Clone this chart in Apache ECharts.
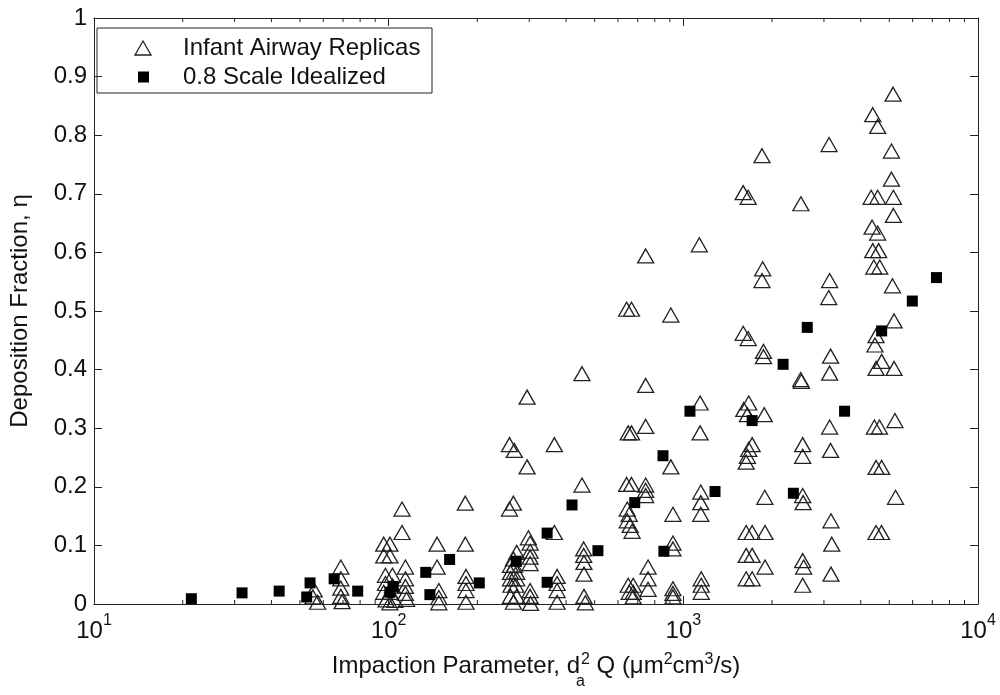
<!DOCTYPE html>
<html>
<head>
<meta charset="utf-8">
<script src="https://cdn.jsdelivr.net/npm/echarts@6/dist/echarts.min.js"></script>
<style>
  html, body { margin: 0; padding: 0; background: #fff; }
  #chart { width: 1000px; height: 695px; }
</style>
</head>
<body>
<div id="chart"></div>
<script>
// Infant airway replicas: impaction parameter (um^2 cm^3/s) and deposition fraction
const replicaImpaction = [
  55.3, 55.9, 57.4,
  68.8, 68.8, 68.8, 68.8, 69.5,
  111, 111, 96.2, 101, 96.2, 101, 114, 97.5, 103, 114, 97.5, 103, 114, 96.2, 101, 114, 98, 105, 115, 101,
  146, 146, 148, 148, 148,
  182, 182, 183, 183, 183, 183,
  257, 267, 265, 257, 272, 265, 259, 267, 259, 272, 259, 272, 260, 270, 259, 272, 265,
  295, 295, 298, 302, 302, 302, 302, 302, 302, 303,
  365, 365, 373, 373, 373, 373,
  453, 453, 459, 459, 460, 460, 460, 465,
  642, 667, 650, 667, 642, 667, 645, 655, 645, 660, 670, 650, 676, 655, 676, 676,
  745, 745, 745, 745, 745, 745, 759, 759, 759,
  907, 907, 922, 922, 922, 922, 922, 922,
  1133, 1140, 1140, 1146, 1146, 1146, 1150, 1150, 1150,
  1849, 1596, 1660, 1859, 1849, 1596, 1660, 1871, 1871, 1667, 1604, 1650, 1882, 1712, 1667, 1650, 1634,
  1890, 1634, 1712, 1893, 1634, 1712, 1893, 1634, 1712,
  2506, 2502, 2515, 2541, 2541, 2541, 2550, 2541, 2560, 2541,
  3123, 3137, 3115, 3160, 3137, 3137, 3160, 3170, 3190, 3170,
  4393, 4565, 4338, 4565, 4370, 4565, 4393, 4600, 4430, 4640, 4510, 4470, 4710, 4510, 4450, 4630, 4510, 4710, 4507, 4704,
  5150, 5085, 5085, 5162, 5162, 5125, 5190, 5190, 5225, 5250
];
const replicaDeposition = [
  0.012, 0.024, 0.003,
  0.063, 0.043, 0.027, 0.013, 0.004,
  0.162, 0.122, 0.102, 0.102, 0.082, 0.082, 0.063, 0.049, 0.049, 0.043, 0.035, 0.031, 0.030, 0.020, 0.020, 0.018, 0.007, 0.006, 0.008, 0.002,
  0.102, 0.063, 0.023, 0.011, 0.002,
  0.172, 0.102, 0.047, 0.035, 0.023, 0.003,
  0.272, 0.262, 0.172, 0.162, 0.088, 0.077, 0.066, 0.066, 0.054, 0.054, 0.043, 0.043, 0.032, 0.032, 0.013, 0.013, 0.003,
  0.353, 0.234, 0.113, 0.104, 0.090, 0.080, 0.069, 0.023, 0.013, 0.001,
  0.272, 0.122, 0.047, 0.035, 0.023, 0.003,
  0.393, 0.203, 0.094, 0.083, 0.071, 0.051, 0.013, 0.002,
  0.503, 0.503, 0.292, 0.292, 0.204, 0.204, 0.162, 0.153, 0.142, 0.134, 0.124, 0.032, 0.032, 0.020, 0.020, 0.012,
  0.594, 0.373, 0.303, 0.203, 0.194, 0.185, 0.063, 0.043, 0.025,
  0.493, 0.234, 0.153, 0.104, 0.094, 0.026, 0.018, 0.012,
  0.613, 0.343, 0.292, 0.191, 0.173, 0.153, 0.043, 0.032, 0.020,
  0.765, 0.702, 0.694, 0.572, 0.552, 0.462, 0.453, 0.431, 0.422, 0.343, 0.332, 0.323, 0.323, 0.272, 0.264, 0.252, 0.242,
  0.182, 0.122, 0.122, 0.122, 0.083, 0.083, 0.063, 0.043, 0.043,
  0.683, 0.383, 0.380, 0.272, 0.252, 0.185, 0.173, 0.074, 0.063, 0.032,
  0.784, 0.552, 0.523, 0.423, 0.394, 0.302, 0.262, 0.142, 0.102, 0.051,
  0.835, 0.815, 0.694, 0.694, 0.643, 0.633, 0.603, 0.603, 0.575, 0.575, 0.458, 0.442, 0.414, 0.402, 0.302, 0.302, 0.233, 0.233, 0.122, 0.122,
  0.870, 0.773, 0.725, 0.694, 0.663, 0.543, 0.483, 0.402, 0.313, 0.182
];

// 0.8 scale idealized geometry
const idealImpaction = [
  21.4, 31.8, 42.5, 52.7, 54.1, 65.3, 78.5, 101, 103.5, 133.6, 138, 161, 203, 271,
  345, 345, 419, 513, 684, 853, 859, 1053, 1281, 1712, 2181, 2363, 2634, 3525, 4710, 5986, 7228
];
const idealDeposition = [
  0.009, 0.019, 0.022, 0.012, 0.036, 0.043, 0.022, 0.020, 0.030, 0.054, 0.016, 0.076, 0.036, 0.073,
  0.121, 0.037, 0.169, 0.091, 0.173, 0.253, 0.090, 0.329, 0.192, 0.313, 0.409, 0.189, 0.472, 0.329, 0.466, 0.517, 0.557
];

const seriesNames = ['Infant Airway Replicas', '0.8 Scale Idealized'];
const xRange = [10, 10000];
const yTickValues = [0, 0.1, 0.2, 0.3, 0.4, 0.5, 0.6, 0.7, 0.8, 0.9, 1];

// minor log ticks 2..9 within each decade
const minorTickValues = [];
for (let d = xRange[0]; d < xRange[1]; d *= 10) {
  for (let k = 2; k <= 9; k++) minorTickValues.push(d * k);
}

const FONT = '"Liberation Sans", Arial, Helvetica, sans-serif';
const INK = '#111';
const FRAME = '#222';

const zip = (xs, ys) => xs.map((x, i) => [x, ys[i]]);

const chart = echarts.init(document.getElementById('chart'), null, { renderer: 'canvas' });

const frameAxisLine = { show: true, onZero: false, lineStyle: { color: FRAME, width: 1 } };
const innerTick = { show: true, inside: true, length: 8, lineStyle: { color: FRAME, width: 1 } };

chart.setOption({
  animation: false,
  backgroundColor: '#fff',
  grid: { left: 86, right: 22, top: 18, bottom: 88, containLabel: false },
  xAxis: [
    {
      type: 'log', logBase: 10, min: xRange[0], max: xRange[1], position: 'bottom',
      axisLine: frameAxisLine, axisTick: innerTick, splitLine: { show: false },
      axisLabel: {
        margin: 9, color: INK, fontFamily: FONT, fontSize: 24,
        formatter: v => '10{sup|' + Math.round(Math.log10(v)) + '}',
        rich: { sup: { fontSize: 16, fontFamily: FONT, color: INK, padding: [0, 0, 20, 0] } }
      },
      name: 'Impaction Parameter, d{sub|a}{sup|2} Q (\u03bcm{sup|2}cm{sup|3}/s)',
      nameLocation: 'middle', nameGap: 39,
      nameTextStyle: {
        color: INK, fontFamily: FONT, fontSize: 24,
        rich: {
          sup: { fontSize: 16, fontFamily: FONT, color: INK, padding: [0, 0, 14, 0] },
          sub: { fontSize: 16, fontFamily: FONT, color: INK, padding: [31, 0, 0, 0], width: 1 }
        }
      }
    },
    {
      type: 'log', logBase: 10, min: xRange[0], max: xRange[1], position: 'top',
      axisLine: frameAxisLine, axisTick: innerTick, axisLabel: { show: false }, splitLine: { show: false }
    }
  ],
  yAxis: [
    {
      type: 'value', min: 0, max: 1, interval: 0.1, position: 'left',
      axisLine: frameAxisLine, axisTick: innerTick, splitLine: { show: false },
      axisLabel: {
        margin: 7, color: INK, fontFamily: FONT, fontSize: 24,
        formatter: v => String(Math.round(v * 10) / 10)
      },
      name: 'Deposition Fraction, \u03b7', nameLocation: 'middle', nameGap: 62,
      nameTextStyle: { color: INK, fontFamily: FONT, fontSize: 24 }
    },
    {
      type: 'value', min: 0, max: 1, interval: 0.1, position: 'right',
      axisLine: frameAxisLine, axisTick: innerTick, axisLabel: { show: false }, splitLine: { show: false }
    }
  ],
  series: [
    {
      // short minor ticks on the bottom and top edges of the log axis
      type: 'custom', silent: true, clip: false, z: 1,
      data: minorTickValues.map(v => [v, 0]),
      encode: { x: 0, y: 1 },
      renderItem: (params, api) => {
        const v = api.value(0);
        const b = api.coord([v, 0]);
        const t = api.coord([v, 1]);
        const st = { stroke: FRAME, lineWidth: 1 };
        return {
          type: 'group',
          children: [
            { type: 'line', shape: { x1: b[0], y1: b[1], x2: b[0], y2: b[1] - 4 }, style: st },
            { type: 'line', shape: { x1: t[0], y1: t[1], x2: t[0], y2: t[1] + 4 }, style: st }
          ]
        };
      }
    },
    {
      name: seriesNames[0], type: 'scatter', z: 3,
      symbol: 'triangle', symbolSize: [16, 14],
      itemStyle: { color: 'rgba(255,255,255,0)', borderColor: FRAME, borderWidth: 1.3, opacity: 1 },
      emphasis: { disabled: true },
      data: zip(replicaImpaction, replicaDeposition)
    },
    {
      name: seriesNames[1], type: 'scatter', z: 4,
      symbol: 'rect', symbolSize: 11,
      itemStyle: { color: '#000', opacity: 1 },
      emphasis: { disabled: true },
      data: zip(idealImpaction, idealDeposition)
    }
  ],
  graphic: [
    {
      type: 'group', z: 100,
      children: [
        { type: 'rect', shape: { x: 97, y: 28, width: 335, height: 65 },
          style: { fill: '#fff', stroke: FRAME, lineWidth: 1 } },
        { type: 'polygon', shape: { points: [[143, 41], [135, 55], [151, 55]] },
          style: { fill: 'none', stroke: FRAME, lineWidth: 1.3 } },
        { type: 'rect', shape: { x: 138, y: 71.5, width: 11, height: 11 },
          style: { fill: '#000' } },
        { type: 'text', x: 183, y: 48,
          style: { text: seriesNames[0], fill: INK, fontFamily: FONT, fontSize: 24, verticalAlign: 'middle' } },
        { type: 'text', x: 183, y: 77,
          style: { text: seriesNames[1], fill: INK, fontFamily: FONT, fontSize: 24, verticalAlign: 'middle' } }
      ]
    }
  ]
});
</script>
</body>
</html>
